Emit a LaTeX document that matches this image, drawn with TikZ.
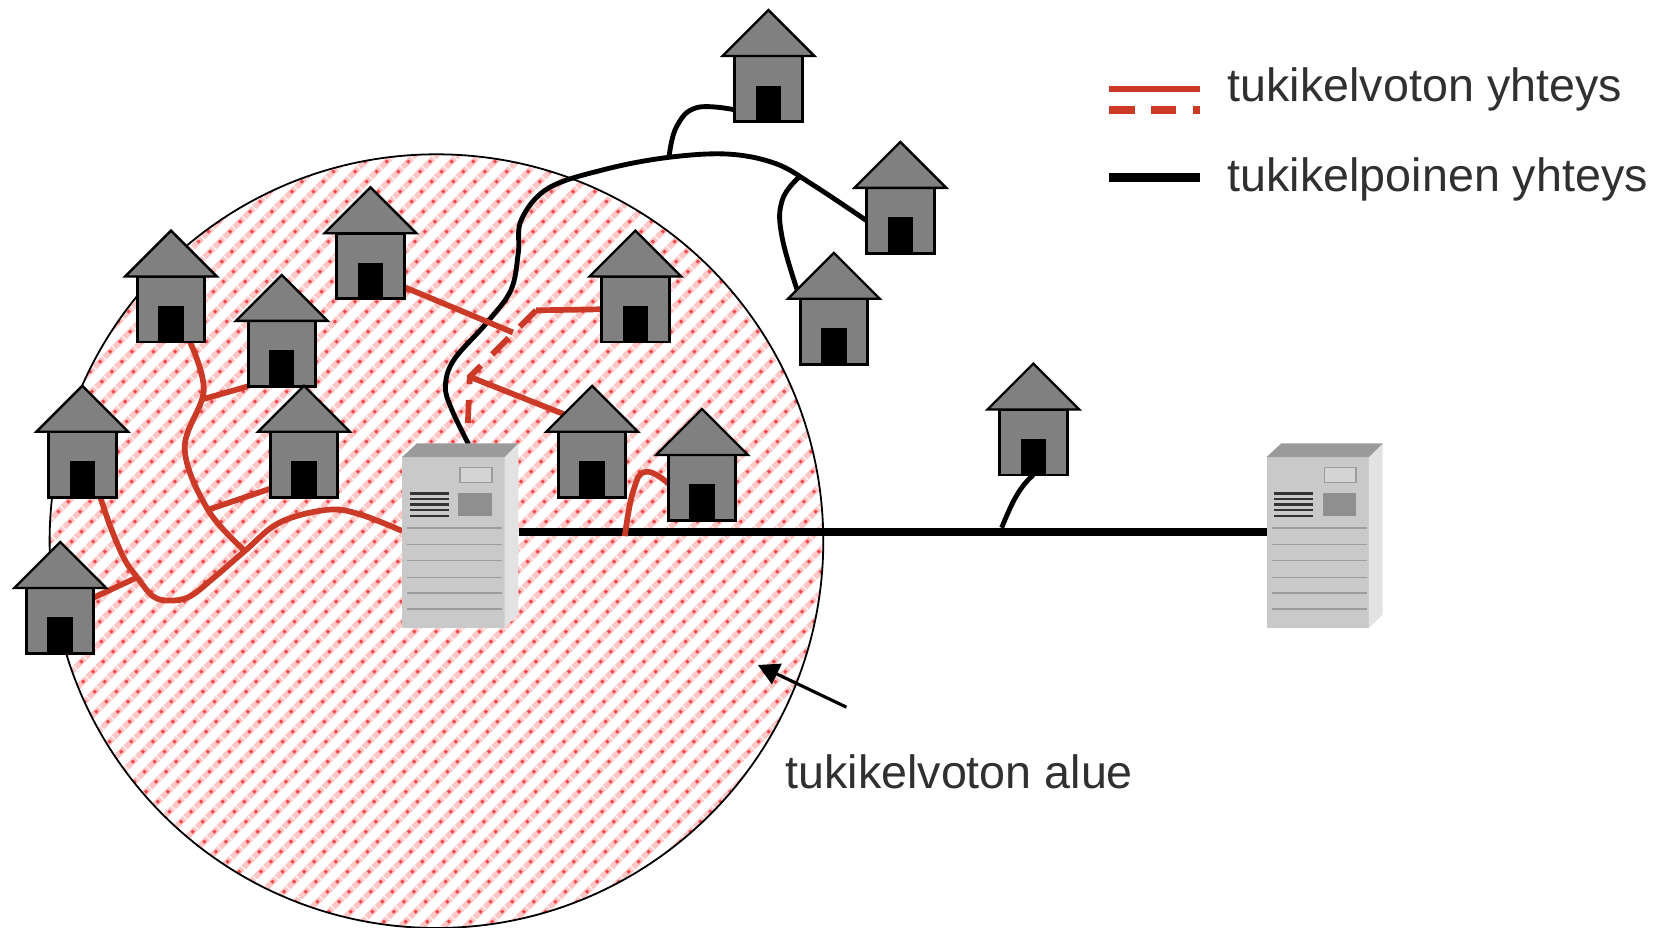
\documentclass[tikz,border=0pt]{standalone}
\usepackage{fontspec}
\setmainfont{Liberation Sans}
\usetikzlibrary{arrows.meta}
\definecolor{wirered}{HTML}{CB3A26}
\definecolor{hatchpink}{HTML}{FFC6C6}
\definecolor{hatchdot}{HTML}{F2474B}
\definecolor{housegray}{HTML}{808080}
\definecolor{textdark}{HTML}{303030}
\definecolor{srvfront}{HTML}{C9C9C9}
\definecolor{srvside}{HTML}{E2E2E2}
\definecolor{srvtop}{HTML}{9A9A9A}
\definecolor{srvline}{HTML}{9C9C9C}
\definecolor{srvdark}{HTML}{8F8F8F}
\tikzset{
  x=1pt,y=-1pt,
  redwire/.style={draw=wirered,line width=5.4pt},
  blackwire/.style={draw=black,line width=4.6pt},
  buswire/.style={draw=black,line width=8pt},
  reddash/.style={draw=wirered,line width=5.4pt,dash pattern=on 22pt off 15pt},
  housebody/.style={rectangle,draw=black,line width=2.8pt,fill=housegray,minimum width=64pt,minimum height=62pt,inner sep=0pt,outer sep=0pt},
  houseroof/.style={draw=black,line width=2.2pt,fill=housegray,line join=miter},
  serverfront/.style={rectangle,fill=srvfront,minimum width=97pt,minimum height=162pt,inner sep=0pt,outer sep=0pt},
  textlabel/.style={anchor=base west,inner sep=0pt,text=textdark,font=\fontsize{44.2}{48}\selectfont},
}
\pgfdeclarelayer{area}
\pgfdeclarelayer{wires}
\pgfsetlayers{area,wires,main}
\newcommand{\placehouse}[3]{%
  \node[housebody] (#1) at (#2,#3+75) {};
  \filldraw[houseroof] ([xshift=-43.5pt]#1.north) -- ([yshift=43.5pt]#1.north) -- ([xshift=43.5pt]#1.north) -- cycle;
  \fill[black] ([xshift=-12pt]#1.south) rectangle ([xshift=12pt,yshift=34pt]#1.south);
}
\newcommand{\placeserver}[3]{%
  \node[serverfront] (#1) at (#2+48.5,#3+81) {};
  \begin{scope}[shift={(#2,#3)}]
    \fill[srvside] (97,0) -- (110,-13) -- (110,149) -- (97,162) -- cycle;
    \fill[srvtop] (0,0) -- (14,-13) -- (110,-13) -- (97,0) -- cycle;
    \draw[srvline,line width=1.6pt,fill=srvfront!80!white] (55,10) rectangle (85,24);
    \fill[srvdark] (53,34) rectangle (85,56);
    \foreach \yy in {34.5,40,45,50,56} \draw[black!80,line width=2pt] (7,\yy) -- (44,\yy);
    \foreach \yy in {67,83,98,114,129,144} \draw[srvline,line width=1.6pt] (5,\yy) -- (95,\yy);
  \end{scope}
}
\begin{document}
\begin{tikzpicture}
\useasboundingbox (0,0) rectangle (1568,879.2);
\begin{pgfonlayer}{area}
\begin{scope}
  \clip (413.5,512.7) circle[radius=366.5];
  \foreach \i in {-28,...,26} {
    \draw[hatchpink,line width=5.5pt] (\i*20.5,950) -- (\i*20.5+1000,-50);
    \draw[hatchdot,line width=2.8pt,dash pattern=on 2.8pt off 10.6pt] (\i*20.5,950) -- (\i*20.5+1000,-50);
    \draw[white,line width=5.5pt,dash pattern=on 1pt off 12.4pt,dash phase=-6pt] (\i*20.5,950) -- (\i*20.5+1000,-50);
  }
\end{scope}
\draw[black,line width=1.7pt] (413.5,512.7) circle[radius=366.5];
\end{pgfonlayer}
% servers and houses
\placeserver{s1}{381}{433}
\placeserver{s2}{1200}{433}
\placehouse{h1}{728}{9}
\placehouse{h2}{853}{134}
\placehouse{h3}{790}{239}
\placehouse{h4}{979}{344}
\placehouse{h5}{351}{177}
\placehouse{h6}{162}{218}
\placehouse{h7}{267}{260}
\placehouse{h8}{602}{218}
\placehouse{h9}{78}{365}
\placehouse{h10}{288}{365}
\placehouse{h11}{561}{365}
\placehouse{h12}{665}{387}
\placehouse{h13}{57}{513}
% junctions
\coordinate (jbus4) at (949,500);
\coordinate (jbus12) at (592,508);
\coordinate (jtop1) at (634,148);
\coordinate (jtop3) at (757,168);
\coordinate (jr7) at (193,378);
\coordinate (jr10) at (197,483);
\coordinate (jr6) at (232,522);
\coordinate (jr13) at (130,547);
\coordinate (tend5) at (486,315);
\coordinate (bend8) at (508,294);
\coordinate (jdash) at (445,357);
\coordinate (dashend) at (443,408);
\begin{pgfonlayer}{wires}
  % black connections
  \draw[buswire] ([xshift=14pt,yshift=10pt]s1.east) -- ([yshift=10pt]s2.west);
  \draw[blackwire] (jbus4) .. controls (958,478) and (965,462) .. (h4.south);
  \draw[blackwire,line cap=round] plot[smooth,tension=0.6] coordinates {([xshift=14pt,yshift=13pt]s1.north) (428,388) (422,366) (430,341) (461,306) (484,275) (491,240) (494,208) (520,178) (575,160) (634,149) (690,146) (735,155) (770,175) (h2.west)};
  \draw[blackwire] plot[smooth,tension=0.7] coordinates {(jtop1) (641,120) (660,102) ([yshift=-20pt]h1.west)};
  \draw[blackwire] plot[smooth,tension=0.7] coordinates {(jtop3) (741,190) (741,225) (h3.north west)};
  % red connections
  \draw[redwire] ([yshift=-20pt]h5.east) -- (tend5);
  \draw[redwire] (h8.west) -- (bend8);
  \draw[reddash] (bend8) -- (jdash) -- (dashend);
  \draw[redwire] ([yshift=6pt]h11.north) -- (jdash);
  \draw[redwire] plot[smooth,tension=0.8] coordinates {(jbus12) (600,465) (612,447) ([yshift=4pt]h12.west)};
  \draw[redwire] plot[smooth,tension=0.6] coordinates {([xshift=18pt]h6.south) (193,370) (175,425) (197,483) (jr6)};
  \draw[redwire] (jr7) -- (h7.south west);
  \draw[redwire] (jr10) -- ([yshift=-23pt]h10.west);
  \draw[redwire] plot[smooth,tension=0.6] coordinates {([xshift=17pt]h9.south) (105,500) (118,530) (jr13) (145,565) (161,569) (180,565) (203,547) (jr6) (265,495) (310,483) (340,487) ([yshift=11pt]s1.west)};
  \draw[redwire] ([yshift=22pt]h13.east) -- (jr13);
\end{pgfonlayer}
% arrow
\node[textlabel] (lblarea) at (744,747) {tukikelvoton alue};
\coordinate (arrowfrom) at (802,670);
\coordinate (arrowto) at (718,630);
\draw[black,line width=3pt,-{Triangle[length=20pt,width=21pt]}] (arrowfrom) -- (arrowto);
% legend
\coordinate (leg1a) at (1051,84.4);
\coordinate (leg1b) at (1137,84.4);
\coordinate (leg2a) at (1051,104.5);
\coordinate (leg2b) at (1137,104.5);
\coordinate (leg3a) at (1051,168.3);
\coordinate (leg3b) at (1137,168.3);
\draw[draw=wirered,line width=6.3pt] (leg1a) -- (leg1b);
\draw[draw=wirered,line width=7.9pt,dash pattern=on 24pt off 15.5pt] (leg2a) -- (leg2b);
\draw[draw=black,line width=8.5pt] (leg3a) -- (leg3b);
\node[textlabel] (lbl1) at (1163,96) {tukikelvoton yhteys};
\node[textlabel] (lbl2) at (1163,181) {tukikelpoinen yhteys};
\end{tikzpicture}
\end{document}
